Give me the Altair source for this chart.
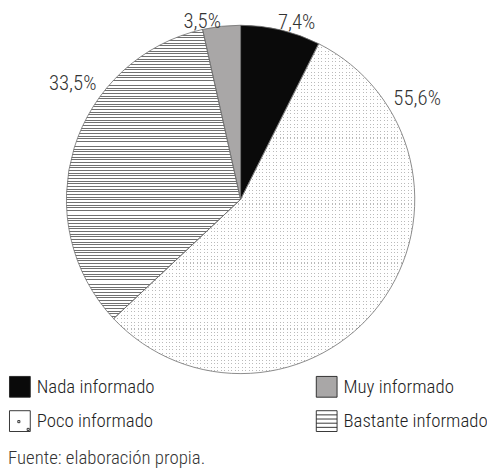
import altair as alt
import pandas as pd

# ---- data ----
categories = ["Nada informado", "Poco informado", "Bastante informado", "Muy informado"]
values = [7.4, 55.6, 33.5, 3.5]
labels = ["7,4%", "55,6%", "33,5%", "3,5%"]
legend_order = ["Nada informado", "Poco informado", "Muy informado", "Bastante informado"]

# ---- layout / style ----
FONT = "Roboto Condensed, DejaVu Sans Condensed, sans-serif"
FS_LAB = 21
FS_LEG = 19
FW = 300
fill_of = {"Nada informado": "#0a0a0a", "Muy informado": "#a9a7a7",
           "Poco informado": "#ffffff", "Bastante informado": "#ffffff"}
SQ = "M-1,-1H1V1H-1Z"
shape_of = {"Nada informado": SQ, "Muy informado": SQ,
            "Poco informado": SQ + " M-0.2,-0.05H0V0.15H-0.2Z M0.7,0.7H0.9V0.9H0.7Z",
            "Bastante informado": SQ + " M-1,-0.6H1 M-1,-0.2H1 M-1,0.2H1 M-1,0.6H1"}
label_angle = [4.9, 16.8, 84.6, 96.6]      # label placement, % of the circle
label_radius = [187, 205, 206, 183]         # label distance from centre, px
R = 176


def stripes(n, ink, gap, frac, vertical=False):
    stops = []
    for k in range(n):
        a = round(k / n, 6)
        b = round((k + frac) / n, 6)
        c = round((k + 1) / n, 6)
        stops += [{"offset": a, "color": ink}, {"offset": b, "color": ink},
                  {"offset": b, "color": gap}, {"offset": c, "color": gap}]
    if vertical:
        return {"gradient": "linear", "x1": 0, "y1": 0, "x2": 1, "y2": 0, "stops": stops}
    return {"gradient": "linear", "x1": 0, "y1": 0, "x2": 0, "y2": 1, "stops": stops}


hatch = stripes(109, "#707070", "#ffffff", 0.36)
dots_rows = stripes(95, "#bababa", "rgba(255,255,255,0)", 0.3)
dots_cols_mask = stripes(87, "rgba(255,255,255,0)", "#ffffff", 0.3, vertical=True)

df = pd.DataFrame({"cat": categories, "value": values, "label": labels,
                   "order": list(range(len(categories))),
                   "lab_theta": label_angle, "lab_r": label_radius})

theta_scale = alt.Scale(domain=[0, 100], range=[0, 6.283185307179586])
fill_scale = alt.Scale(domain=legend_order, range=[fill_of[c] for c in legend_order])
shape_scale = alt.Scale(domain=legend_order, range=[shape_of[c] for c in legend_order])
stroke_scale = alt.Scale(domain=legend_order, range=["#222222"] * len(legend_order))


def leg():
    return alt.Legend(orient="none", legendX=1, legendY=363, columns=2, title=None,
                      symbolSize=441, symbolStrokeColor="#222222",
                      symbolStrokeWidth=0.9, labelFont=FONT, labelFontSize=FS_LEG,
                      labelFontWeight=FW,
                      labelColor="#222222", labelOffset=6, rowPadding=9, labelLimit=300,
                      columnPadding=160, padding=0, symbolOpacity=1)


base = alt.Chart(df)
th = alt.Theta("start:Q", scale=theta_scale)
th2 = alt.Theta2("end:Q")

keys = base.mark_point(filled=False, size=1, strokeWidth=0.9).encode(
    fill=alt.Fill("cat:N", scale=fill_scale, legend=leg()),
    shape=alt.Shape("cat:N", scale=shape_scale, legend=leg()),
    stroke=alt.Stroke("cat:N", scale=stroke_scale, legend=leg()),
)

arcs = base.mark_arc(radius=R).encode(
    theta=th, theta2=th2,
    fill=alt.Fill("cat:N", scale=fill_scale, legend=leg()),
)

poco_rows = base.transform_filter(alt.datum.cat == "Poco informado").mark_arc(
    radius=R, fill=dots_rows).encode(theta=th, theta2=th2)
poco_mask = base.transform_filter(alt.datum.cat == "Poco informado").mark_arc(
    radius=R, fill=dots_cols_mask).encode(theta=th, theta2=th2)
bast = base.transform_filter(alt.datum.cat == "Bastante informado").mark_arc(
    radius=R, fill=hatch).encode(theta=th, theta2=th2)
outline = base.mark_arc(radius=R, fillOpacity=0, stroke="#6e6e6e", strokeWidth=0.8).encode(
    theta=th, theta2=th2)

text = base.mark_text(font=FONT, fontSize=FS_LAB, fontWeight=FW, color="#333333").encode(
    theta=alt.Theta("lab_theta:Q", scale=theta_scale),
    radius=alt.Radius("lab_r:Q", scale=None),
    text="label:N",
)

chart = alt.layer(keys, arcs, poco_rows, poco_mask, bast, outline, text).transform_window(
    cum="sum(value)", sort=[alt.SortField("order")], frame=[None, 0]
).transform_calculate(
    end="datum.cum", start="datum.cum - datum.value"
).properties(
    width=470, height=370,
    padding={"left": 0, "top": 6, "right": 14, "bottom": 88},
    autosize=alt.AutoSizeParams(type="none"),
    title=alt.TitleParams("Fuente: elaboración propia.", orient="bottom", anchor="start",
                          font=FONT, fontSize=FS_LEG, fontWeight=FW, color="#333333", offset=15),
).configure_view(stroke=None)

chart.save("out.html", embed_options={"renderer": "svg", "actions": False})
